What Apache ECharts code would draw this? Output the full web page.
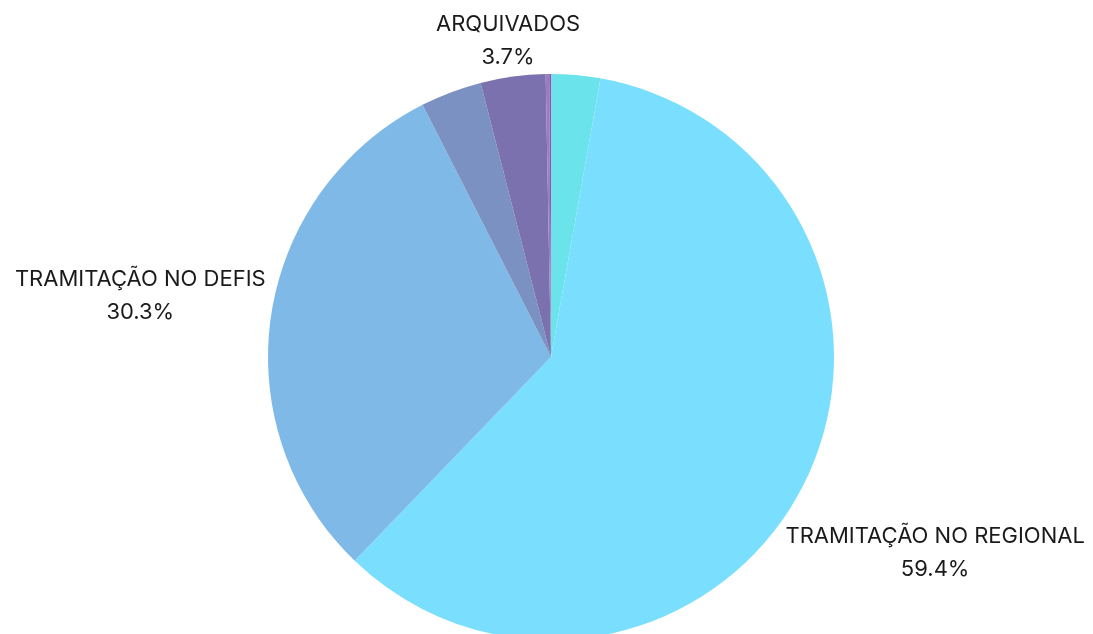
<!DOCTYPE html>
<html>
<head>
<meta charset="utf-8">
<script src="https://cdn.jsdelivr.net/npm/echarts@6/dist/echarts.min.js"></script>
<style>
  html, body { margin: 0; padding: 0; background: #fff; }
  #chart { width: 1093px; height: 634px; }
</style>
</head>
<body>
<div id="chart"></div>
<script>
// dados do gráfico
var categorias = [
  "EM ANÁLISE",
  "TRAMITAÇÃO NO REGIONAL",
  "TRAMITAÇÃO NO DEFIS",
  "AGUARDANDO DOCUMENTOS",
  "ARQUIVADOS",
  "SUSPENSOS",
  "CANCELADOS"
];
var valores = [2.8, 59.4, 30.3, 3.5, 3.7, 0.2, 0.1];
var cores = ["#6ae4ea", "#7adffe", "#7fb9e7", "#7a91c2", "#7b71ae", "#9a7cc0", "#a24cb4"];
var comRotulo = [false, true, true, false, true, false, false];

var myChart = echarts.init(document.getElementById("chart"));

var cx = 551, cy = 357, R = 283; // centro e raio da pizza
var total = valores.reduce(function (a, b) { return a + b; }, 0);

// ângulo médio de cada fatia (sentido horário a partir do topo)
var angMedio = [];
var acc = 0;
valores.forEach(function (v) {
  angMedio.push(((acc + v / 2) / total) * 2 * Math.PI);
  acc += v;
});

myChart.setOption({
  animation: false,
  series: [
    {
      type: "pie",
      center: [cx, cy],
      radius: R,
      startAngle: 90,
      clockwise: true,
      avoidLabelOverlap: false,
      data: categorias.map(function (nome, i) {
        return {
          name: nome,
          value: valores[i],
          itemStyle: { color: cores[i] },
          label: { show: comRotulo[i] }
        };
      }),
      label: {
        position: "outside",
        formatter: function (p) {
          return p.name + "\n" + p.percent.toFixed(1) + "%";
        },
        fontFamily: "Inter",
        fontSize: 22,
        lineHeight: 33,
        color: "#1a1a1a",
        align: "center"
      },
      labelLine: { show: false },
      // rótulo fora da fatia, no ângulo médio, encostado no círculo
      labelLayout: function (params) {
        var a = angMedio[params.dataIndex];
        var ux = Math.sin(a), uy = -Math.cos(a);
        var w = params.labelRect.width, h = params.labelRect.height;
        var d = R + 5 + (w / 2) * Math.abs(ux) + 0.65 * (h / 2) * Math.abs(uy);
        return {
          x: cx + ux * d,
          y: cy + uy * d,
          align: "center",
          verticalAlign: "middle"
        };
      }
    }
  ]
});
</script>
</body>
</html>
